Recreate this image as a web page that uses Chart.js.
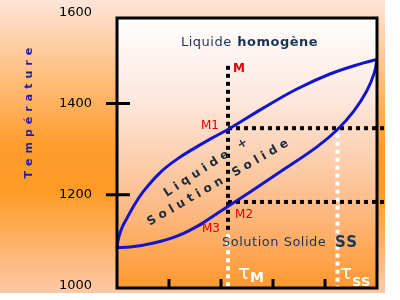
<!DOCTYPE html>
<html>
<head>
<meta charset="utf-8">
<script src="https://cdn.jsdelivr.net/npm/chart.js@4/dist/chart.umd.min.js"></script>
<style>
  html, body { margin: 0; padding: 0; background: #fff; }
  #wrap { position: relative; width: 385px; height: 293px; }
</style>
</head>
<body>
<div id="wrap"><canvas id="chart"></canvas></div>
<script>
// composition (0..1) and temperature
const liquidusX = [0, 0.006, 0.019, 0.039, 0.062, 0.1, 0.165, 0.231, 0.292, 0.358, 0.435, 0.562, 0.692, 0.819, 0.946, 1];
const liquidusT = [1084, 1105, 1127, 1149, 1173, 1206, 1248, 1278, 1300, 1322, 1346, 1390, 1432, 1465, 1489, 1497];
const solidusX = [0, 0.05, 0.1, 0.165, 0.231, 0.281, 0.331, 0.423, 0.512, 0.638, 0.769, 0.846, 0.91, 0.96, 0.99, 1];
const solidusT = [1084, 1085, 1089, 1097, 1109, 1122, 1138, 1173, 1206, 1254, 1305, 1342, 1383, 1427, 1468, 1497];

const yTicks = [1000, 1200, 1400, 1600];
const yTickMarks = [1200, 1400];
const xTickMarks = [0.2, 0.4, 0.6, 0.8];

// construction lines
const lineMX = [0.427, 0.427];
const lineMT = [1483, 1118];
const lineTauMX = [0.427, 0.427];
const lineTauMT = [1113, 995];
const lineTauSSX = [0.848, 0.848];
const lineTauSST = [1334, 995];
const lineM1X = [0.427, 1.031];
const lineM1T = [1346, 1346];
const lineM2X = [0.427, 1.031];
const lineM2T = [1184, 1184];

const toPoints = (xs, ts) => xs.map((x, i) => ({ x: x, y: ts[i] }));

const curve = (label, xs, ts) => ({
  label: label,
  data: toPoints(xs, ts),
  showLine: true,
  borderColor: '#1414cc',
  borderWidth: 3,
  pointRadius: 0,
  tension: 0.4,
  order: 1
});

const guide = (label, xs, ts, color, order) => ({
  label: label,
  data: toPoints(xs, ts),
  showLine: true,
  borderColor: color,
  borderWidth: 4,
  borderDash: [4, 4],
  borderCapStyle: 'butt',
  pointRadius: 0,
  clip: false,
  order: order
});

function spaced(ctx, str, x, y, spacing) {
  let cx = x;
  for (const ch of str) {
    ctx.fillText(ch, cx, y);
    cx += ctx.measureText(ch).width + spacing;
  }
  return cx;
}

function spacedWidth(ctx, str, spacing) {
  let w = 0;
  for (const ch of str) w += ctx.measureText(ch).width + spacing;
  return w - spacing;
}

const decor = {
  id: 'decor',
  beforeDraw(chart) {
    const { ctx, chartArea: a, width, height } = chart;
    ctx.save();
    let g = ctx.createLinearGradient(0, 0, 0, height);
    g.addColorStop(0, '#fde5d8');
    g.addColorStop(0.5, '#ff9c2c');
    g.addColorStop(0.65, '#ff9a26');
    g.addColorStop(1, '#fcc9a6');
    ctx.fillStyle = g;
    ctx.fillRect(0, 0, width, height);
    g = ctx.createLinearGradient(0, a.top, 0, a.bottom);
    g.addColorStop(0, '#ffffff');
    g.addColorStop(0.3, '#fde8de');
    g.addColorStop(0.67, '#fcbe8e');
    g.addColorStop(1, '#ff9830');
    ctx.fillStyle = g;
    ctx.fillRect(a.left, a.top, a.right - a.left, a.bottom - a.top);
    ctx.restore();
  },
  afterDatasetsDraw(chart) {
    const { ctx, chartArea: a } = chart;
    const X = v => chart.scales.x.getPixelForValue(v);
    const Y = v => chart.scales.y.getPixelForValue(v);
    ctx.save();

    // frame and tick marks
    ctx.strokeStyle = '#000';
    ctx.lineWidth = 3;
    ctx.strokeRect(a.left, a.top, a.right - a.left, a.bottom - a.top);
    ctx.beginPath();
    yTickMarks.forEach(v => { ctx.moveTo(a.left - 11, Y(v)); ctx.lineTo(a.left + 13, Y(v)); });
    xTickMarks.forEach(v => { ctx.moveTo(X(v), a.bottom); ctx.lineTo(X(v), a.bottom - 9); });
    ctx.stroke();

    ctx.textBaseline = 'middle';
    ctx.textAlign = 'left';

    // Liquide homogène
    ctx.fillStyle = '#1b3356';
    ctx.font = '13px "DejaVu Sans"';
    let ex = spaced(ctx, 'Liquide ', X(0.246), Y(1535), 0.5);
    ctx.font = 'bold 13px "DejaVu Sans"';
    spaced(ctx, 'homogène', ex + 1, Y(1535), 0.5);

    // Solution Solide SS
    ctx.font = '13px "DejaVu Sans"';
    ex = spaced(ctx, 'Solution Solide ', X(0.404), Y(1094), 0.5);
    ctx.font = 'bold 15px "DejaVu Sans"';
    spaced(ctx, 'SS', ex + 4, Y(1094), 0.5);

    // point labels
    ctx.fillStyle = '#e00000';
    ctx.font = 'bold 12px "DejaVu Sans"';
    ctx.fillText('M', X(0.446), Y(1476));
    ctx.font = '12px "DejaVu Sans"';
    ctx.textAlign = 'right';
    ctx.fillText('M1', X(0.392), Y(1351));
    ctx.fillText('M3', X(0.396), Y(1125));
    ctx.textAlign = 'left';
    ctx.fillText('M2', X(0.454), Y(1155));

    // two-phase region label, rotated
    ctx.fillStyle = '#1e2a3c';
    ctx.font = 'bold 12px "DejaVu Sans"';
    [['Liquide +', 0.342, 1259, -33], ['Solution Solide', 0.388, 1226, -30]].forEach(([s, x, t, ang]) => {
      ctx.save();
      ctx.translate(X(x), Y(t));
      ctx.rotate(ang * Math.PI / 180);
      spaced(ctx, s, -spacedWidth(ctx, s, 4.2) / 2, 0, 4.2);
      ctx.restore();
    });

    // composition markers
    ctx.fillStyle = '#ffffff';
    ctx.textBaseline = 'alphabetic';
    ctx.font = '20px "DejaVu Sans"';
    ctx.fillText('τ', X(0.465), Y(1015));
    ex = X(0.465) + ctx.measureText('τ').width;
    ctx.font = 'bold 14px "DejaVu Sans"';
    ctx.fillText('M', ex, Y(1008));
    ctx.font = '20px "DejaVu Sans"';
    ctx.fillText('τ', X(0.858), Y(1015));
    ex = X(0.858) + ctx.measureText('τ').width;
    ctx.font = 'bold 13px "DejaVu Sans"';
    ctx.fillText('SS', ex, Y(999));

    // axis title
    ctx.fillStyle = '#1f1fa0';
    ctx.font = 'bold 11px "DejaVu Sans"';
    ctx.textBaseline = 'middle';
    ctx.translate(29, Y(1379));
    ctx.rotate(-Math.PI / 2);
    spaced(ctx, 'Température', -spacedWidth(ctx, 'Température', 5) / 2, 0, 5);
    ctx.restore();
  }
};

new Chart(document.getElementById('chart'), {
  type: 'scatter',
  data: {
    datasets: [
      curve('Liquidus', liquidusX, liquidusT),
      curve('Solidus', solidusX, solidusT),
      guide('M', lineMX, lineMT, '#000000', 2),
      guide('M1', lineM1X, lineM1T, '#000000', 2),
      guide('M2', lineM2X, lineM2T, '#000000', 2),
      guide('τM', lineTauMX, lineTauMT, '#ffffff', 3),
      guide('τSS', lineTauSSX, lineTauSST, '#ffffff', 3)
    ]
  },
  options: {
    responsive: true,
    maintainAspectRatio: false,
    animation: false,
    layout: { padding: { top: 18, right: 8, bottom: 5, left: 0 } },
    plugins: { legend: { display: false }, tooltip: { enabled: false } },
    scales: {
      x: { type: 'linear', min: 0, max: 1, display: false },
      y: {
        type: 'linear',
        min: 995,
        max: 1588,
        afterBuildTicks: s => { s.ticks = yTicks.map(v => ({ value: v })); },
        afterFit: s => { s.width = 117; s.paddingTop = 0; s.paddingBottom = 0; },
        grid: { display: false, drawTicks: false },
        border: { display: false },
        ticks: {
          autoSkip: false,
          padding: 25,
          color: '#000',
          font: { family: 'DejaVu Sans', size: 13 },
          callback: v => String(v)
        }
      }
    }
  },
  plugins: [decor]
});
</script>
</body>
</html>
